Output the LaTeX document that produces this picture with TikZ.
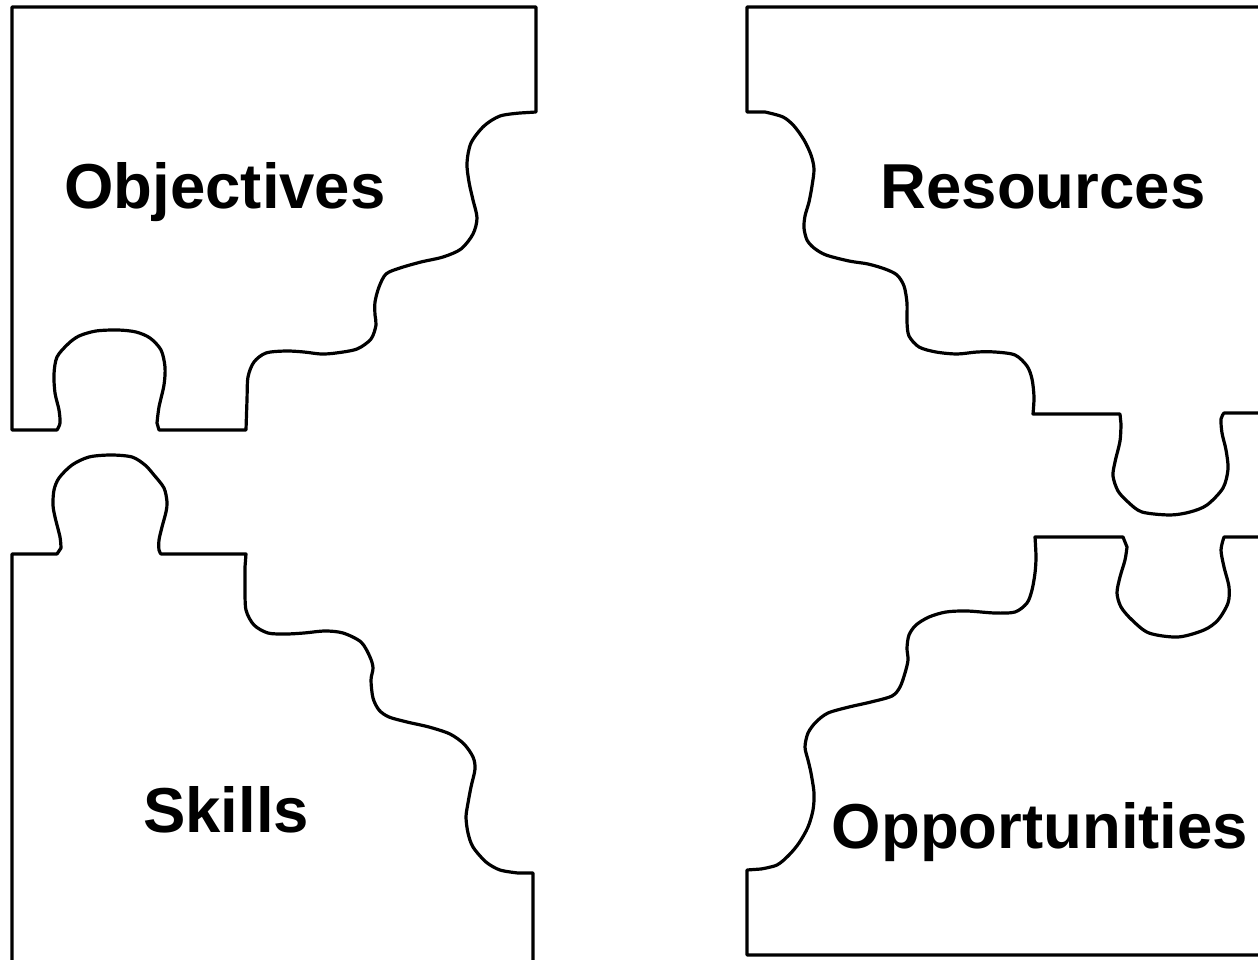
\documentclass[tikz,border=0pt]{standalone}
\usepackage{fontspec}
\setmainfont{Liberation Sans}
\usepackage{tikz}
\usetikzlibrary{calc}

\begin{document}
\begin{tikzpicture}[x=1pt,y=-1pt,
  piece/.style={line width=3.2pt,line join=round},
  word/.style={font=\bfseries\fontsize{63.5}{63.5}\selectfont,anchor=base,inner sep=0pt}]
\useasboundingbox (0,0) rectangle (1258,960);
\clip (0,0) rectangle (1258,960);
\coordinate (A) at (12,7);
\coordinate (B) at (536,7);
\coordinate (C) at (747,7);
\coordinate (D) at (12,554);
\coordinate (E) at (747,955);
\draw[piece] (A) -- (B) -- (536,112) -- plot[smooth] coordinates {(520,113) (500,116) (484,126) (471,143) (467,163) (469,182) (473,200) (477,218) (473,234) (461,249) (443,257) (421,262) (400,268) (386,274) (379,287) (375,302) (375,315) (376,325) (371,339) (357,349) (336,353) (321,354) (304,352) (286,351) (266,353) (254,362) (248,377) (247,400) (246,430)}
  -- (159,430) -- plot[smooth] coordinates {(157,423) (159,407) (164,385) (165,367) (161,350) (150,338) (136,332) (118,330) (96,331) (79,336) (68,344) (57,357) (54,374) (55,393) (59,410) (60,423) (57,430)}
  -- (12,430) -- cycle;
\draw[piece] (12,975) -- (D) -- (57,554) -- plot[smooth] coordinates {(61,548) (60,537) (55,517) (53,505) (54,490) (59,478) (72,465) (89,457) (111,455) (132,457) (145,465) (154,475) (164,488) (167,502) (166,512) (162,527) (159,540) (159,550) (161,554)}
  -- (246,554) -- plot[smooth] coordinates {(245,567) (245,587) (246,610) (254,625) (268,633) (286,634) (304,633) (325,631) (343,633) (361,642) (370,657) (373,668) (371,680) (373,698) (379,710) (389,717) (407,722) (429,727) (450,734) (464,744) (473,757) (475,769) (471,787) (468,803) (466,817) (468,833) (473,847) (486,862) (500,870) (518,873)}
  -- (533,873) -- (533,975);
\draw[piece] (1270,7) -- (C) -- (747,112) -- plot[smooth] coordinates {(765,112) (783,117) (794,126) (804,140) (811,155) (814,169) (812,186) (809,202) (805,216) (804,228) (807,240) (814,248) (826,255) (849,261) (868,264) (885,269) (897,275) (904,286) (907,303) (907,322) (909,336) (919,347) (936,352) (957,354) (977,352) (995,352) (1015,355) (1027,366) (1032,379) (1034,397) (1033,414)}
  -- (1120,414) -- plot[smooth] coordinates {(1121,424) (1120,441) (1115,462) (1113,476) (1118,491) (1128,502) (1142,512) (1170,515) (1190,512) (1207,505) (1223,488) (1228,469) (1226,450) (1222,433) (1221,419) (1224,413)}
  -- (1270,413);
\draw[piece] (1270,955) -- (E) -- (747,870) -- plot[smooth] coordinates {(761,869) (777,865) (789,855) (799,843) (808,827) (813,810) (814,793) (811,773) (808,760) (805,747) (808,733) (816,722) (828,713) (849,707) (871,702) (892,696) (900,687) (905,673) (908,660) (907,648) (909,635) (916,625) (929,617) (946,612) (967,611) (995,613) (1015,612) (1027,603) (1032,590) (1035,573) (1036,557) (1035,537)}
  -- (1123,537) -- plot[smooth] coordinates {(1127,547) (1125,560) (1120,577) (1117,593) (1121,607) (1132,620) (1149,633) (1178,637) (1204,630) (1218,620) (1228,603) (1229,587) (1224,567) (1221,550) (1224,537)}
  -- (1270,537);
\node[word] (objectives) at (225,208) {Objectives};
\node[word] (resources) at (1043,208) {Resources};
\node[word] (skills) at (226,832) {Skills};
\node[word] (opportunities) at (1040,848) {Opportunities};
\end{tikzpicture}
\end{document}
